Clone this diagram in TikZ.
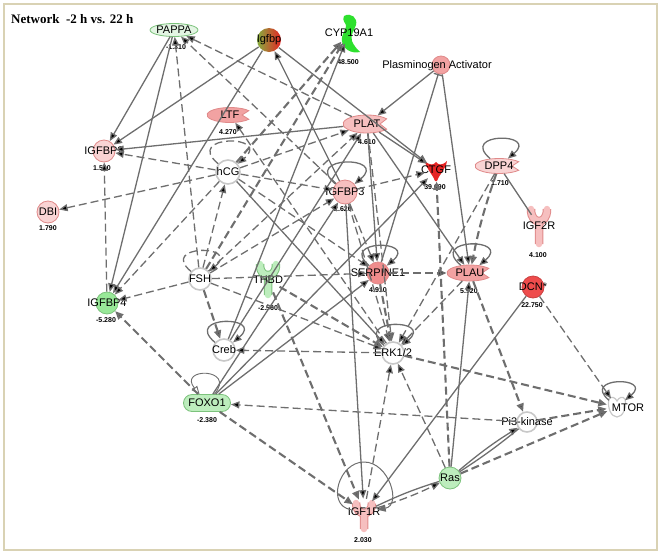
\documentclass[tikz,border=0pt]{standalone}
\usepackage{fontspec}
\setmainfont{Liberation Serif}
\newfontfamily\arialf{Liberation Sans}
\usetikzlibrary{arrows.meta,shapes.geometric,positioning}
\pgfdeclarelayer{background}
\pgfsetlayers{background,main}

\definecolor{edgc}{HTML}{6E6E6E}
\definecolor{pinkA}{HTML}{F9D4D4}
\definecolor{pinkB}{HTML}{F6BFBF}
\definecolor{pinkC}{HTML}{F2A2A2}
\definecolor{pinkS}{HTML}{F08C8C}
\definecolor{pinkE}{HTML}{E08A8A}
\definecolor{redA}{HTML}{EE4C4C}
\definecolor{redB}{HTML}{E62424}
\definecolor{olv}{HTML}{86AE3E}
\definecolor{grnA}{HTML}{E3F5E3}
\definecolor{grnB}{HTML}{98E898}
\definecolor{grnC}{HTML}{BDEDBD}
\definecolor{grnD}{HTML}{2EE02E}
\definecolor{grnE}{HTML}{7CC27C}
\definecolor{wout}{HTML}{C8C8C8}
\definecolor{frm}{HTML}{D9D2B4}

\tikzset{
  mol/.style={circle, inner sep=0pt, minimum size=22pt, line width=0.8pt, label={[lab]center:#1}},
  wnode/.style={fill=white, draw=wout, line width=1.6pt},
  lab/.style={font=\arialf\fontsize{11}{12}\selectfont, inner sep=0pt},
  val/.style={font=\arialf\bfseries\fontsize{7}{8}\selectfont, inner sep=0pt},
  rel/.style={->, draw=edgc, line width=1.3pt},
  ind/.style={rel, dash pattern=on 8pt off 4pt},
  thk/.style={line width=2.1pt},
  inh/.style={-{Bar[width=9pt]}, draw=edgc, line width=1.3pt},
  lnk/.style={-, draw=edgc, line width=1.3pt},
  selfl/.style={loop, out=140, in=40, looseness=6, min distance=5pt},
  rcpt/.style={line width=6.5pt, line cap=round, preaction={draw=#1, line width=8.5pt}},
}

\begin{document}
\begin{tikzpicture}[x=1pt,y=-1pt,>={Triangle[length=8.5pt,width=7pt]}]
\useasboundingbox (0,0) rectangle (661,555);
\draw[frm, line width=1.5pt] (4,4) rectangle (657,550);
\node[anchor=west, font=\bfseries\fontsize{13}{15}\selectfont, inner sep=0pt] (title) at (11,19) {Network\ \ -2 h vs. 22 h};

% molecules
\node[mol=PAPPA, ellipse, minimum width=48pt, minimum height=13pt, fill=grnA, draw=grnE] (PAPPA) at (174,30) {};
\node[mol=Igfbp, minimum size=24pt, left color=olv, right color=redB, draw=none] (Igfbp) at (269,40) {};
\node[mol=CYP19A1] (CYP) at (349,33) {};
\node[mol={}, minimum size=18pt, fill=pinkC, draw=pinkE] (PA) at (441,65) {};
\node[lab] (PAt) at (437,66) {Plasminogen Activator};
\node[mol=LTF, ellipse, minimum width=46pt, minimum height=15pt] (LTF) at (230,115) {};
\node[mol=PLAT, ellipse, minimum width=48pt, minimum height=18pt] (PLAT) at (367,124) {};
\node[mol=IGFBP2, fill=pinkA, draw=pinkE] (IGFBP2) at (104,151) {};
\node[mol=hCG, minimum size=24pt, wnode] (hCG) at (228,172) {};
\node[mol=CTGF] (CTGF) at (436,170) {};
\node[mol=DPP4, ellipse, minimum width=48pt, minimum height=15pt] (DPP4) at (499,166) {};
\node[mol=IGFBP3, minimum size=24pt, fill=pinkB, draw=pinkE] (IGFBP3) at (345,192) {};
\node[mol=DBI, fill=pinkA, draw=pinkE] (DBI) at (48,212) {};
\node[mol=IGF2R, minimum size=26pt] (IGF2R) at (539,226) {};
\node[mol=FSH, wnode] (FSH) at (200,279) {};
\node[mol=THBD, minimum size=26pt] (THBD) at (268,280) {};
\node[mol=SERPINE1, fill=pinkS, draw=pinkE] (SERPINE1) at (378,273) {};
\node[mol=PLAU, ellipse, minimum width=46pt, minimum height=16pt] (PLAU) at (470,273) {};
\node[mol=DCN*, fill=redA, draw=redA!85!black] (DCN) at (533,287) {};
\node[mol=IGFBP4, fill=grnB, draw=grnE] (IGFBP4) at (107,303) {};
\node[mol=Creb, wnode] (Creb) at (224,350) {};
\node[mol=ERK1/2, wnode] (ERK) at (393,353) {};
\node[mol=FOXO1, rectangle, rounded corners=8.5pt, minimum width=47pt, minimum height=17pt, fill=grnC, draw=grnE] (FOXO1) at (207,403) {};
\node[mol=Pi3-kinase, minimum size=20pt, wnode] (Pi3) at (527,422) {};
\node[mol={}, minimum size=20pt] (MTOR) at (617,407) {};
\node[lab] (MTORt) at (628,408) {MTOR};
\node[mol=Ras, fill=grnC, draw=grnE] (Ras) at (450,478) {};
\node[mol=IGF1R, minimum size=26pt] (IGF1R) at (364,512) {};

% values
\node[val] (PAPPAv) at (176,47) {-1.310};
\node[val] (CYPv) at (348,62) {48.500};
\node[val] (LTFv) at (228,132) {4.270};
\node[val] (PLATv) at (367,142) {4.610};
\node[val] (IGFBP2v) at (102,168) {1.590};
\node[val] (CTGFv) at (435,187) {39.090};
\node[val] (DPP4v) at (500,183) {1.710};
\node[val] (IGFBP3v) at (343,209) {2.620};
\node[val] (DBIv) at (48,228) {1.790};
\node[val] (IGF2Rv) at (538,255) {4.100};
\node[val] (THBDv) at (268,308) {-2.560};
\node[val] (SERPINE1v) at (378,290) {4.910};
\node[val] (PLAUv) at (469,291) {5.920};
\node[val] (DCNv) at (532,305) {22.750};
\node[val] (IGFBP4v) at (106,320) {-5.280};
\node[val] (FOXO1v) at (207,420) {-2.380};
\node[val] (IGF1Rv) at (363,540) {2.030};

% shapes behind the labels
\begin{pgfonlayer}{background}
\begin{scope}[shift={(PLAT)}]
\filldraw[fill=pinkB, draw=pinkE, line width=0.8pt] (35:24pt and 9pt) arc[start angle=35, end angle=325, x radius=24pt, y radius=9pt] -- (13pt,0pt) -- cycle;
\end{scope}
\begin{scope}[shift={(LTF)}]
\filldraw[fill=pinkC, draw=pinkE, line width=0.8pt] (35:23pt and 7.5pt) arc[start angle=35, end angle=325, x radius=23pt, y radius=7.5pt] -- (12pt,0pt) -- cycle;
\end{scope}
\begin{scope}[shift={(PLAU)}]
\filldraw[fill=pinkC, draw=pinkE, line width=0.8pt] (35:23pt and 8pt) arc[start angle=35, end angle=325, x radius=23pt, y radius=8pt] -- (12pt,0pt) -- cycle;
\end{scope}
\begin{scope}[shift={(DPP4)}]
\filldraw[fill=pinkA, draw=pinkE, line width=0.8pt] (35:24pt and 7.5pt) arc[start angle=35, end angle=325, x radius=24pt, y radius=7.5pt] -- (13pt,0pt) -- cycle;
\end{scope}
\begin{scope}[shift={(CYP)}]
\fill[grnD] (-5,-17) .. controls (2,-21) and (9,-15) .. (7,-8) .. controls (5,-2) and (1,2) .. (3,8) .. controls (5,13) and (8,16) .. (11,19) .. controls (2,21) and (-6,16) .. (-7,8) .. controls (-8,0) and (-2,-4) .. (-3,-8) .. controls (-4,-11) and (-7,-12) .. (-5,-17) -- cycle;
\end{scope}
\begin{scope}[shift={(CTGF)}]
\fill[redB] (-11,-9) .. controls (-6,-4) and (-2,-5) .. (0,-8) .. controls (2,-5) and (6,-4) .. (11,-9) .. controls (10,-1) and (4,3) .. (1,11) -- (-1,11) .. controls (-4,3) and (-10,-1) .. (-11,-9) -- cycle;
\end{scope}
\begin{scope}[shift={(IGF1R)}]
\draw[pinkB, rcpt=pinkE] (-8,-9) .. controls (-8,-2) and (-4,1) .. (0,1) .. controls (4,1) and (8,-2) .. (8,-9) (0,1) -- (0,17);
\end{scope}
\begin{scope}[shift={(IGF2R)}]
\draw[pinkB, rcpt=pinkE] (-8,-17) .. controls (-8,-8) and (-4,-5) .. (0,-5) .. controls (4,-5) and (8,-8) .. (8,-17) (0,-5) -- (0,18);
\end{scope}
\begin{scope}[shift={(THBD)}]
\draw[grnC, rcpt=grnE] (-8,-16) .. controls (-8,-7) and (-4,-5) .. (0,-5) .. controls (4,-5) and (8,-7) .. (8,-16) (0,-5) -- (0,15);
\end{scope}
\begin{scope}[shift={(MTOR)}]
\filldraw[fill=white, draw=wout, line width=1.2pt] (-8,-8) .. controls (-10,0) and (-6,10) .. (0,10) .. controls (6,10) and (10,0) .. (8,-8) .. controls (6,-11) and (2,-10) .. (0,-6) .. controls (-2,-10) and (-6,-11) .. cycle;
\end{scope}
\end{pgfonlayer}

% direct relations
\path[rel] (PAPPA) edge (IGFBP2);
\path[rel] (PAPPA) edge (IGFBP4);
\path[rel] (Igfbp) edge (IGFBP2);
\path[rel] (Igfbp) edge (IGFBP4);
\path[rel] (Igfbp) edge (CTGF);
\path[rel] (IGFBP3) edge (Igfbp);
\path[rel] (PLAT) edge (IGFBP2);
\path[rel] (PA) edge (PLAT);
\path[rel] (PA) edge (PLAU);
\path[inh] (SERPINE1) edge (PA);
\path[rel] (PLAT) edge (CTGF);
\path[rel] (PLAT) edge (PLAU);
\path[rel] (PLAT) edge (SERPINE1);
\path[rel] (FOXO1) edge (SERPINE1);
\path[rel] (FOXO1) edge (CTGF);
\path[rel] (FOXO1) edge (IGFBP3);
\path[rel] (Creb) edge (CYP);
\path[rel] (Creb) edge (PLAT);
\path[rel] (hCG) edge (ERK);
\path[rel] (IGFBP3) edge (IGF1R);
\path[rel] (DCN) edge (IGF1R);
\path[lnk] (IGF1R) edge[bend left=4] (Ras);
\path[rel] (Ras) edge (PLAU);
\path[rel] (Ras) edge[bend left=4] (Pi3);
\path[lnk] (Ras) edge[bend right=3] (Pi3);
\path[lnk] (DPP4) edge (IGF2R);

% indirect relations
\path[ind] (FSH) edge (PAPPA);
\path[ind] (PLAT) edge (PAPPA);
\path[ind] (IGFBP3) edge (PAPPA);
\path[ind] (hCG) edge (IGFBP2);
\path[ind] (hCG) edge (DBI);
\path[ind] (IGFBP4) edge (IGFBP2);
\path[ind] (hCG) edge (IGFBP4);
\path[ind] (FSH) edge (IGFBP4);
\path[ind,thk] (FOXO1) edge (IGFBP4);
\path[ind,thk] (FSH) edge (Creb);
\path[ind] (FSH) edge (hCG);
\path[ind] (FSH) edge (IGFBP3);
\path[ind] (FSH) edge (PLAT);
\path[ind] (FSH) edge (SERPINE1);
\path[ind] (FSH) edge (ERK);
\path[ind,thk] (FSH) edge (CYP);
\path[ind] (hCG) edge (IGFBP3);
\path[ind] (hCG) edge (PLAT);
\path[ind] (hCG) edge (SERPINE1);
\path[ind,thk] (hCG) edge (CYP);
\path[ind] (SERPINE1) edge (PLAU);
\path[ind] (ERK) edge (Creb);
\path[ind] (ERK) edge (LTF);
\path[ind,thk] (FOXO1) edge (IGF1R);
\path[ind] (Pi3) edge (FOXO1);
\path[ind,thk] (THBD) edge (ERK);
\path[ind,thk] (THBD) edge (IGF1R);
\path[ind] (IGF1R) edge (ERK);
\path[ind] (Ras) edge (ERK);
\path[ind] (IGF1R) edge[bend right=4] (Ras);
\path[ind,thk] (Ras) edge (MTOR);
\path[ind,thk] (Pi3) edge (MTOR);
\path[ind,thk] (ERK) edge (MTOR);
\path[ind] (DCN) edge (MTOR);
\path[ind,thk] (PLAU) edge (Pi3);
\path[ind,thk] (DPP4) edge[bend right=4] (PLAU);
\path[ind] (DPP4) edge (ERK);
\path[ind,thk] (Ras) edge (CTGF);
\path[ind] (PLAT) edge (ERK);
\path[ind] (IGFBP3) edge (SERPINE1);
\path[ind] (IGFBP3) edge (ERK);
\path[ind,thk] (SERPINE1) edge (ERK);
\path[ind] (IGFBP3) edge (CTGF);
\path[ind] (PLAU) edge (ERK);

% self loops
\path[rel] (IGFBP3) edge[selfl] (IGFBP3);
\path[rel] (SERPINE1) edge[selfl] (SERPINE1);
\path[rel] (PLAU) edge[selfl] (PLAU);
\path[rel] (DPP4) edge[selfl] (DPP4);
\path[rel] (ERK) edge[selfl] (ERK);
\path[rel] (Creb) edge[selfl] (Creb);
\path[rel] (MTOR) edge[selfl] (MTOR);
\path[ind] (hCG) edge[selfl] (hCG);
\path[ind] (FSH) edge[selfl] (FSH);
\path[rel, -{Triangle[open, length=8pt, width=7pt]}, line width=0.9pt] (FOXO1) edge[loop, out=50, in=130, looseness=6] (FOXO1);
\coordinate (IGF1Rtop) at (364,462);
\draw[rel, line width=1pt] (IGF1R) to[out=170, in=180, looseness=1.3] (IGF1Rtop) to[out=0, in=10, looseness=1.3] (IGF1R);
\end{tikzpicture}
\end{document}
